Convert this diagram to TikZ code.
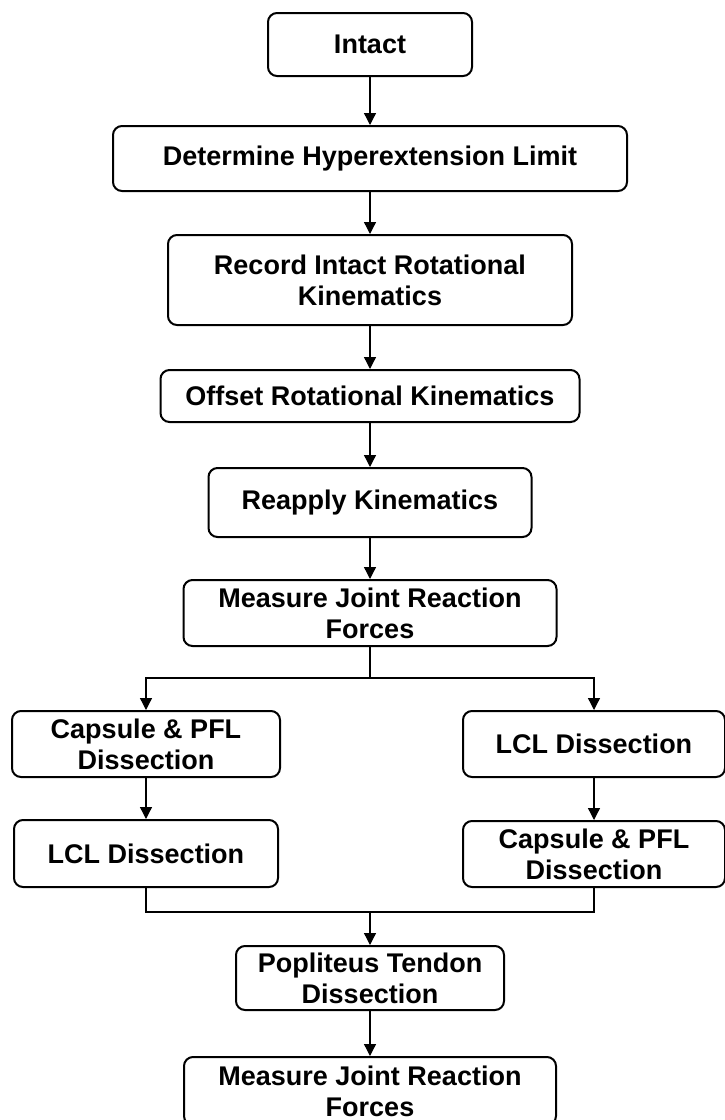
\documentclass[tikz,border=0pt]{standalone}
\usepackage{fontspec}
\setmainfont{Liberation Sans}
\usetikzlibrary{arrows.meta}

\begin{document}
\begin{tikzpicture}[x=1pt, y=-1pt,
    stage/.style={draw, line width=2pt, rounded corners=9pt, align=center, inner sep=0pt,
        font=\fontsize{27}{31}\selectfont\bfseries},
    flow/.style={line width=1.3pt, -{Triangle[width=12pt,length=12pt]}},
    joint/.style={line width=1.3pt}]
    \useasboundingbox (0,0) rectangle (725,1120);

    % main line
    \node[stage, minimum width=204pt, minimum height=63pt] (intact) at (370,44.5) {Intact};
    \node[stage, minimum width=514pt, minimum height=65pt] (limit) at (370,158.5) {Determine Hyperextension Limit};
    \node[stage, minimum width=404pt, minimum height=90pt] (record) at (370,280) {Record Intact Rotational\\Kinematics};
    \node[stage, minimum width=419pt, minimum height=52pt] (offset) at (370,396) {Offset Rotational Kinematics};
    \node[stage, minimum width=323pt, minimum height=69pt] (reapply) at (370,502.5) {Reapply Kinematics};
    \node[stage, minimum width=373pt, minimum height=66pt] (measure) at (370,613) {Measure Joint Reaction\\Forces};

    % two dissection orders
    \node[stage, minimum width=268pt, minimum height=66pt] (capsuleL) at (146,744) {Capsule \& PFL\\Dissection};
    \node[stage, minimum width=264pt, minimum height=67pt] (lclL) at (146,853.5) {LCL Dissection};
    \node[stage, minimum width=262pt, minimum height=66pt] (lclR) at (594,744) {LCL Dissection};
    \node[stage, minimum width=262pt, minimum height=66pt] (capsuleR) at (594,854) {Capsule \& PFL\\Dissection};

    \node[stage, minimum width=268pt, minimum height=64pt] (popliteus) at (370,978) {Popliteus Tendon\\Dissection};
    \node[stage, minimum width=372pt, minimum height=68pt] (measureB) at (370,1091) {Measure Joint Reaction\\Forces};

    \draw[flow] (intact) -- (limit);
    \draw[flow] (limit) -- (record);
    \draw[flow] (record) -- (offset);
    \draw[flow] (offset) -- (reapply);
    \draw[flow] (reapply) -- (measure);

    \coordinate (split) at (370,678);
    \coordinate (merge) at (370,912);
    \draw[joint] (measure) -- (split);
    \draw[flow] (split) -| (capsuleL);
    \draw[flow] (split) -| (lclR);
    \draw[flow] (capsuleL) -- (lclL);
    \draw[flow] (lclR) -- (capsuleR);
    \draw[joint] (lclL) |- (merge);
    \draw[joint] (capsuleR) |- (merge);
    \draw[flow] (merge) -- (popliteus);
    \draw[flow] (popliteus) -- (measureB);
\end{tikzpicture}
\end{document}
